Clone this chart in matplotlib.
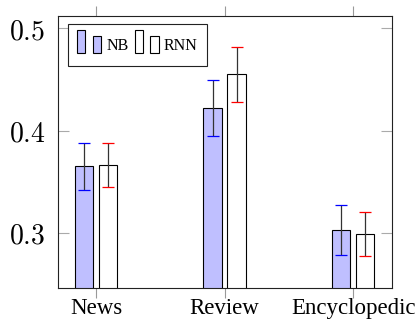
import numpy as np
import matplotlib
matplotlib.use("Agg")
import matplotlib.pyplot as plt
from matplotlib.patches import Rectangle, Patch
from matplotlib.legend_handler import HandlerBase

plt.rcParams["mathtext.fontset"] = "cm"

# ---------------------------------------------------------------------------
# Data
# ---------------------------------------------------------------------------
categories = ["News", "Review", "Encyclopedic"]
nb_vals = [0.365, 0.422, 0.3025]
nb_errs = [0.023, 0.0275, 0.0245]
rnn_vals = [0.366, 0.455, 0.299]
rnn_errs = [0.0215, 0.027, 0.0215]
yticks = [0.3, 0.4, 0.5]

NB_FILL = "#bfbfff"
RNN_FILL = "white"


class DoubleBarHandler(HandlerBase):
    """pgfplots-style ybar legend image: two small bars (sized from fontsize)."""
    def create_artists(self, legend, orig_handle, xdescent, ydescent,
                       width, height, fontsize, trans):
        fc = orig_handle.get_facecolor()
        x0, y0 = -xdescent, -0.165 * fontsize   # y=0 is the text baseline
        h = 1.44 * fontsize
        r1 = Rectangle((x0, y0), width * 0.345, h, facecolor=fc,
                       edgecolor="black", linewidth=0.8, transform=trans)
        r2 = Rectangle((x0 + width * 0.645, y0), width * 0.355, h * 0.75,
                       facecolor=fc, edgecolor="black", linewidth=0.8,
                       transform=trans)
        return [r1, r2]


fig = plt.figure(figsize=(4.19, 3.29), dpi=100)
ax = fig.add_axes([58 / 419, 1 - 288 / 329, (392 - 58) / 419, (288 - 16) / 329])

x = np.arange(len(categories))
off = 0.093
bw = 0.145

ax.bar(x - off, nb_vals, bw, color=NB_FILL, edgecolor="black", linewidth=0.8, zorder=2)
ax.bar(x + off, rnn_vals, bw, color=RNN_FILL, edgecolor="black", linewidth=0.8, zorder=2)

for xs, vals, errs, cap_col in [(x - off, nb_vals, nb_errs, "blue"),
                                (x + off, rnn_vals, rnn_errs, "red")]:
    _, caps, _ = ax.errorbar(xs, vals, yerr=errs, fmt="none", ecolor="#333333",
                             elinewidth=0.9, capsize=4, capthick=0.9, zorder=3)
    for c in caps:
        c.set_color(cap_col)
        c.set_markeredgecolor(cap_col)

ax.set_xlim(-0.296, 2.303)
ax.set_ylim(0.2461, 0.512)

ax.set_xticks(x)
ax.set_xticklabels(categories, fontfamily="Liberation Serif", fontsize=16.5)
ax.set_yticks(yticks)
ax.set_yticklabels([f"${v:.1f}$" for v in yticks], fontsize=20)

ax.tick_params(axis="x", direction="out", length=7, width=0.8, color="#999999",
               top=True, bottom=True, pad=0.5)
ax.tick_params(axis="y", direction="in", length=8, width=0.8, color="#aaaaaa",
               left=True, right=True, pad=9)
for s in ax.spines.values():
    s.set_linewidth(0.8)
    s.set_color("#222222")

handles = [Patch(facecolor=NB_FILL, edgecolor="black"),
           Patch(facecolor=RNN_FILL, edgecolor="black")]
leg = ax.legend(handles, ["NB", "RNN"], ncol=2, loc="upper left",
                bbox_to_anchor=(0.029, 0.9695), borderaxespad=0,
                handler_map={Patch: DoubleBarHandler()},
                prop={"family": "Liberation Serif", "size": 11.5},
                handlelength=1.52, handleheight=1.79, handletextpad=0.3,
                columnspacing=0.4, borderpad=0.59, fancybox=False,
                edgecolor="#222222", framealpha=1)
leg.get_frame().set_linewidth(0.8)

fig.savefig("out.png", dpi=100)
